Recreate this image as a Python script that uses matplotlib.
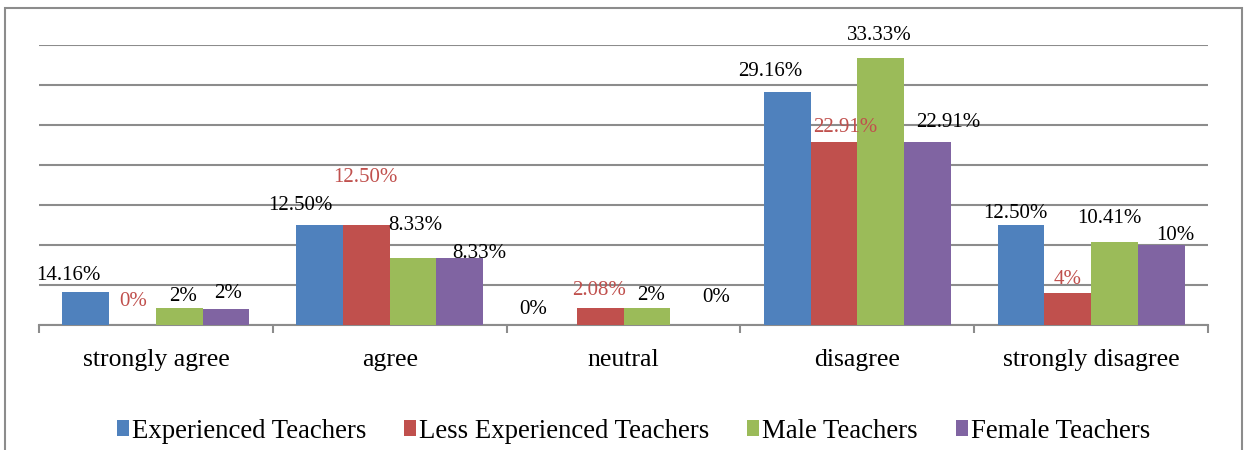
import matplotlib
matplotlib.use('Agg')
import matplotlib.pyplot as plt
from matplotlib.patches import Rectangle
import numpy as np

# Data
categories = ['strongly agree', 'agree', 'neutral', 'disagree', 'strongly disagree']
series = ['Experienced Teachers', 'Less Experienced Teachers', 'Male Teachers', 'Female Teachers']
experienced = [4.16, 12.50, 0, 29.16, 12.50]
less_experienced = [0, 12.50, 2.08, 22.91, 4]
male = [2.08, 8.33, 2.08, 33.33, 10.41]
female = [2, 8.33, 0, 22.91, 10]

# Labels as printed on the chart
experienced_lbl = ['14.16%', '12.50%', '0%', '29.16%', '12.50%']
less_experienced_lbl = ['0%', '12.50%', '2.08%', '22.91%', '4%']
male_lbl = ['2%', '8.33%', '2%', '33.33%', '10.41%']
female_lbl = ['2%', '8.33%', '0%', '22.91%', '10%']

colors = ['#4F81BD', '#C0504D', '#9BBB59', '#8064A2']
label_colors = ['black', '#C0504D', 'black', 'black']

# Label offsets (pixels) from the top of each bar, per series then category
offsets = [
    [(-17, 16), (-19, 20), (-20, 16), (-17, 20), (-6, 12)],
    [(1, 23), (-1, 48), (-1, 18), (11, 14), (0, 14)],
    [(4, 12), (2, 33), (4, 13), (-1, 23), (-5, 23)],
    [(2, 16), (19, 5), (23, 27), (21, 19), (14, 9)],
]

plt.rcParams['font.family'] = ['Liberation Serif', 'DejaVu Serif']

values = [experienced, less_experienced, male, female]
labels = [experienced_lbl, less_experienced_lbl, male_lbl, female_lbl]

fig = plt.figure(figsize=(12.47, 4.5), dpi=100)
ax = fig.add_axes([39 / 1247, 125 / 450, 1169 / 1247, 280 / 450])

x = np.arange(len(categories))
width = 0.2
for i, name in enumerate(series):
    pos = x + (i - 1.5) * width
    ax.bar(pos, values[i], width, color=colors[i], label=name, zorder=3)
    for j in range(len(categories)):
        dx, dy = offsets[i][j]
        ax.annotate(labels[i][j], (pos[j], values[i][j]), xytext=(dx, dy),
                    textcoords='offset pixels', ha='center', va='center',
                    fontsize=15, color=label_colors[i], zorder=4)

# Axes styling
ax.set_xlim(-0.5, 4.5)
ax.set_ylim(0, 35)
ax.set_yticks(np.arange(0, 36, 5))
ax.set_yticklabels([])
ax.tick_params(axis='y', length=0)
ax.yaxis.grid(True, color='#8C8C8C', linewidth=1.5, zorder=0)
ax.set_axisbelow(True)
for side in ['left', 'right', 'top']:
    ax.spines[side].set_visible(False)
ax.spines['bottom'].set_color('#8C8C8C')
ax.spines['bottom'].set_linewidth(1.5)

ax.set_xticks(x)
ax.set_xticklabels(categories, fontsize=18.5)
ax.set_xticks(np.arange(-0.5, 5, 1), minor=True)
ax.tick_params(axis='x', which='major', length=0, pad=17)
ax.tick_params(axis='x', which='minor', length=6, width=1.5, color='#8C8C8C', direction='out')

# Legend
fig.legend(loc='center', bbox_to_anchor=(0.508, 0.042), ncol=4, frameon=False,
           fontsize=19.3, handlelength=0.45, handleheight=0.5, handletextpad=0.12,
           columnspacing=1.4)

# Outer border
fig.patches.append(Rectangle((5 / 1247, -0.05), 1237 / 1247, 1.05 - 8 / 450,
                             transform=fig.transFigure, fill=False,
                             edgecolor='#8C8C8C', linewidth=1.5))

fig.savefig('out.png', dpi=100)
